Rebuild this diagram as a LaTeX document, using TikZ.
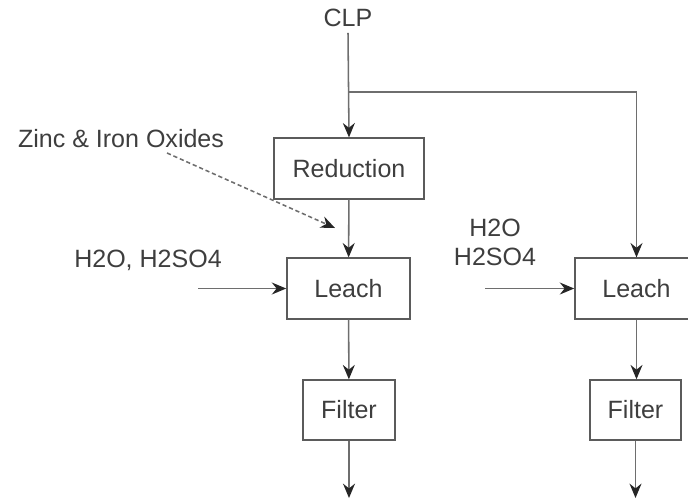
\documentclass[tikz,border=0pt]{standalone}
\usepackage{fontspec}
\setmainfont{Liberation Sans}
\usetikzlibrary{positioning,arrows.meta}
\definecolor{inkgrey}{HTML}{3E3E3E}
\definecolor{linegrey}{HTML}{6E6E6E}
\tikzset{
  pf/.style={align=center, font=\fontsize{17.8pt}{20.5pt}\selectfont, text=inkgrey, inner sep=0pt},
  pf unit/.style={pf, draw=inkgrey!85, line width=1pt, minimum height=1.52cm},
  pf arr/.style={-{Stealth[length=3.6mm, width=3mm, inset=1.2mm, color=black!85]}, line width=1.1pt, linegrey},
  pf feed/.style={pf arr, dash pattern=on 3pt off 2pt},
}

\begin{document}
\begin{tikzpicture}[x=0.025cm, y=-0.025cm]
  \useasboundingbox (0,0) rectangle (688,502);
  \clip (0,0) rectangle (688,502);
  % left train: reduction, leach, filter
  \node[pf, inner sep=4pt] (clp) at (348,18) {CLP};
  \node[pf unit, minimum width=3.75cm] (red) at (349,168.5) {Reduction};
  \node[pf unit, minimum width=3.08cm] (leachA) at (348.5,288.5) {Leach};
  \node[pf unit, minimum width=2.3cm, minimum height=1.5cm] (filtA) at (349,410) {Filter};
  % right train: leach, filter
  \node[pf unit, minimum width=3.08cm] (leachB) at (636.5,288.5) {Leach};
  \node[pf unit, minimum width=2.28cm, minimum height=1.5cm] (filtB) at (635.5,410) {Filter};
  % feed labels
  \node[pf] (ox) at (121,139) {Zinc \& Iron Oxides};
  \node[pf] (acA) at (148,260) {H2O, H2SO4};
  \node[pf] (acB) at (495,242) {H2O\\H2SO4};
  % free ends
  \coordinate (split) at (348.5,92);
  \coordinate (oxtail) at (167,153);
  \coordinate (oxin) at (335,228);
  \coordinate (inA) at (198,288.5);
  \coordinate (inB) at (485,288.5);
  \coordinate (outA) at (349,498);
  \coordinate (outB) at (635.5,498);
  % connectors
  \draw[pf arr] (clp.south) -- (red.north);
  \draw[pf arr] (split) -| (leachB.north);
  \draw[pf arr] (red) -- (leachA);
  \draw[pf feed] (oxtail) -- (oxin);
  \draw[pf arr] (inA) -- (leachA.west);
  \draw[pf arr] (inB) -- (leachB.west);
  \draw[pf arr] (leachA) -- (filtA);
  \draw[pf arr] (leachB.south) -- (filtB.north -| leachB.south);
  \draw[pf arr] (filtA) -- (outA);
  \draw[pf arr] (filtB) -- (outB);
\end{tikzpicture}
\end{document}
